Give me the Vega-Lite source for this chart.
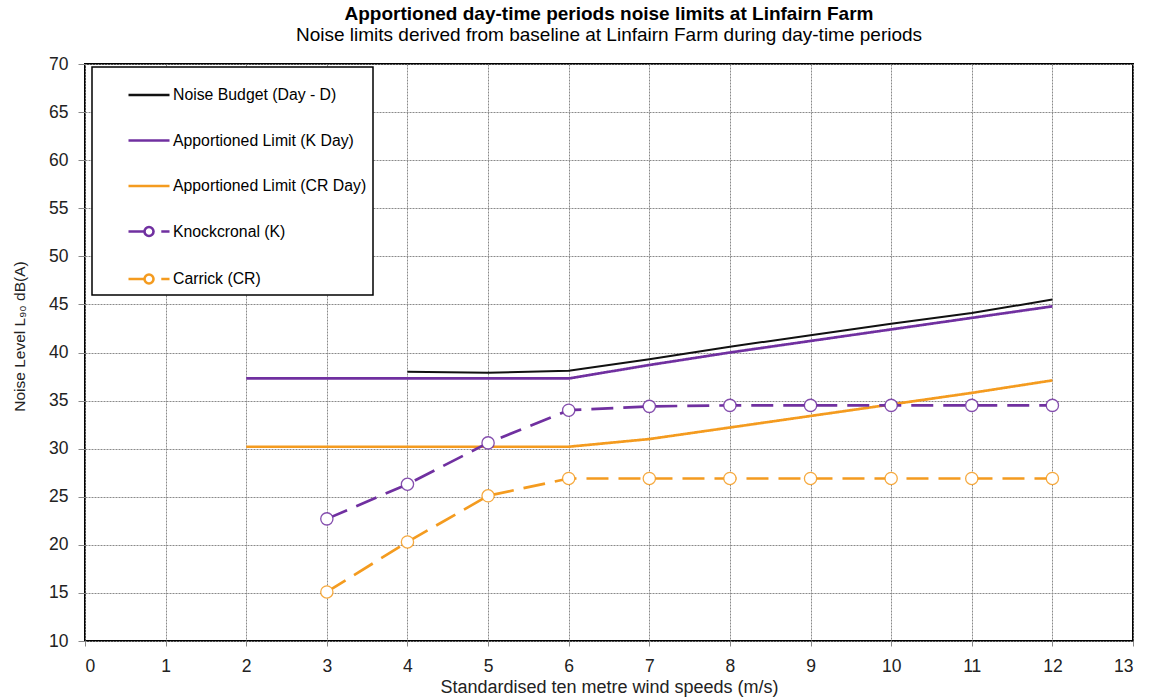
{
  "$schema": "https://vega.github.io/schema/vega-lite/v6.json",
  "width": 1048,
  "height": 577,
  "autosize": {"type": "none"},
  "padding": {"left": 85, "top": 64, "right": 16, "bottom": 58},
  "background": "white",
  "title": {
    "text": "Apportioned day-time periods noise limits at Linfairn Farm",
    "subtitle": "Noise limits derived from baseline at Linfairn Farm during day-time periods",
    "anchor": "middle",
    "frame": "group",
    "font": "Liberation Sans",
    "fontSize": 19,
    "fontWeight": "bold",
    "color": "black",
    "subtitleFont": "Liberation Sans",
    "subtitleFontSize": 19,
    "subtitleColor": "black",
    "subtitlePadding": 2,
    "offset": 10
  },
  "config": {
    "view": {"stroke": "black", "strokeWidth": 2},
    "axis": {
      "labelFont": "Liberation Sans",
      "labelFontSize": 17.5,
      "labelColor": "#222222",
      "titleFont": "Liberation Sans",
      "titleFontWeight": "normal",
      "titleColor": "#222222",
      "gridColor": "#8a8a8a",
      "gridDash": [2, 1],
      "gridWidth": 1,
      "tickColor": "#888888",
      "domain": false
    }
  },
  "data": {
    "values": [
      {"series": "Noise Budget (Day - D)", "wind": 4, "level": 38.0},
      {"series": "Noise Budget (Day - D)", "wind": 5, "level": 37.9},
      {"series": "Noise Budget (Day - D)", "wind": 6, "level": 38.1},
      {"series": "Noise Budget (Day - D)", "wind": 7, "level": 39.3},
      {"series": "Noise Budget (Day - D)", "wind": 8, "level": 40.6},
      {"series": "Noise Budget (Day - D)", "wind": 9, "level": 41.8},
      {"series": "Noise Budget (Day - D)", "wind": 10, "level": 43.0},
      {"series": "Noise Budget (Day - D)", "wind": 11, "level": 44.1},
      {"series": "Noise Budget (Day - D)", "wind": 12, "level": 45.5},
      {"series": "Apportioned Limit (K Day)", "wind": 2, "level": 37.3},
      {"series": "Apportioned Limit (K Day)", "wind": 3, "level": 37.3},
      {"series": "Apportioned Limit (K Day)", "wind": 4, "level": 37.3},
      {"series": "Apportioned Limit (K Day)", "wind": 5, "level": 37.3},
      {"series": "Apportioned Limit (K Day)", "wind": 6, "level": 37.3},
      {"series": "Apportioned Limit (K Day)", "wind": 7, "level": 38.7},
      {"series": "Apportioned Limit (K Day)", "wind": 8, "level": 40.0},
      {"series": "Apportioned Limit (K Day)", "wind": 9, "level": 41.2},
      {"series": "Apportioned Limit (K Day)", "wind": 10, "level": 42.4},
      {"series": "Apportioned Limit (K Day)", "wind": 11, "level": 43.6},
      {"series": "Apportioned Limit (K Day)", "wind": 12, "level": 44.8},
      {"series": "Apportioned Limit (CR Day)", "wind": 2, "level": 30.2},
      {"series": "Apportioned Limit (CR Day)", "wind": 3, "level": 30.2},
      {"series": "Apportioned Limit (CR Day)", "wind": 4, "level": 30.2},
      {"series": "Apportioned Limit (CR Day)", "wind": 5, "level": 30.2},
      {"series": "Apportioned Limit (CR Day)", "wind": 6, "level": 30.2},
      {"series": "Apportioned Limit (CR Day)", "wind": 7, "level": 31.0},
      {"series": "Apportioned Limit (CR Day)", "wind": 8, "level": 32.2},
      {"series": "Apportioned Limit (CR Day)", "wind": 9, "level": 33.4},
      {"series": "Apportioned Limit (CR Day)", "wind": 10, "level": 34.6},
      {"series": "Apportioned Limit (CR Day)", "wind": 11, "level": 35.8},
      {"series": "Apportioned Limit (CR Day)", "wind": 12, "level": 37.1},
      {"series": "Knockcronal (K)", "wind": 3, "level": 22.7},
      {"series": "Knockcronal (K)", "wind": 4, "level": 26.3},
      {"series": "Knockcronal (K)", "wind": 5, "level": 30.6},
      {"series": "Knockcronal (K)", "wind": 6, "level": 34.0},
      {"series": "Knockcronal (K)", "wind": 7, "level": 34.4},
      {"series": "Knockcronal (K)", "wind": 8, "level": 34.5},
      {"series": "Knockcronal (K)", "wind": 9, "level": 34.5},
      {"series": "Knockcronal (K)", "wind": 10, "level": 34.5},
      {"series": "Knockcronal (K)", "wind": 11, "level": 34.5},
      {"series": "Knockcronal (K)", "wind": 12, "level": 34.5},
      {"series": "Carrick (CR)", "wind": 3, "level": 15.1},
      {"series": "Carrick (CR)", "wind": 4, "level": 20.3},
      {"series": "Carrick (CR)", "wind": 5, "level": 25.1},
      {"series": "Carrick (CR)", "wind": 6, "level": 26.9},
      {"series": "Carrick (CR)", "wind": 7, "level": 26.9},
      {"series": "Carrick (CR)", "wind": 8, "level": 26.9},
      {"series": "Carrick (CR)", "wind": 9, "level": 26.9},
      {"series": "Carrick (CR)", "wind": 10, "level": 26.9},
      {"series": "Carrick (CR)", "wind": 11, "level": 26.9},
      {"series": "Carrick (CR)", "wind": 12, "level": 26.9}
    ]
  },
  "encoding": {
    "x": {
      "field": "wind",
      "type": "quantitative",
      "scale": {"domain": [0, 13], "nice": false, "zero": false},
      "axis": {
        "values": [0, 1, 2, 3, 4, 5, 6, 7, 8, 9, 10, 11, 12, 13],
        "format": "d",
        "tickSize": 5,
        "labelPadding": 11,
        "title": "Standardised ten metre wind speeds (m/s)",
        "titleFontSize": 18,
        "titlePadding": 4
      }
    },
    "y": {
      "field": "level",
      "type": "quantitative",
      "scale": {"domain": [10, 70], "nice": false, "zero": false},
      "axis": {
        "values": [10, 15, 20, 25, 30, 35, 40, 45, 50, 55, 60, 65, 70],
        "format": "d",
        "tickSize": 7,
        "labelPadding": 10,
        "title": "Noise Level L₉₀ dB(A)",
        "titleFontSize": 15.5,
        "titlePadding": 21,
        "titleY": 272
      }
    }
  },
  "layer": [
    {
      "transform": [{"filter": {"field": "series", "equal": "Noise Budget (Day - D)"}}],
      "mark": {"type": "line", "strokeWidth": 2},
      "encoding": {
        "stroke": {
          "field": "series",
          "type": "nominal",
          "scale": {
            "domain": ["Noise Budget (Day - D)", "Apportioned Limit (K Day)", "Apportioned Limit (CR Day)", "Knockcronal (K)", "Carrick (CR)"],
            "range": ["#111111", "#7030A0", "#F49B1F", "#7030A0", "#F49B1F"]
          },
          "legend": {
            "orient": "none",
            "legendX": 7,
            "legendY": 3,
            "title": null,
            "padding": 6,
            "symbolOffset": 29,
            "labelOffset": 2,
            "rowPadding": 15.5,
            "symbolSize": 1681,
            "symbolStrokeWidth": 2.6,
            "labelFont": "Liberation Sans",
            "labelFontSize": 15.8,
            "labelColor": "black",
            "labelLimit": 300,
            "strokeColor": "black",
            "fillColor": "white",
            "cornerRadius": 0,
            "encode": {
              "legend": {"update": {"strokeWidth": {"value": 1.5}}},
              "symbols": {
                "update": {
                  "shape": {"signal": "indexof(['Knockcronal (K)', 'Carrick (CR)'], datum.value) >= 0 ? 'M-1,0H-0.24M0.22,0A0.22,0.22,0,1,1,-0.22,0A0.22,0.22,0,1,1,0.22,0M0.6,0H1' : 'M-1,0H1'"},
                  "fill": {"value": "white"},
                  "strokeWidth": {"value": 2.6},
                  "strokeDash": {"value": []}
                }
              }
            }
          }
        },
        "order": {"field": "wind"}
      }
    },
    {
      "transform": [{"filter": {"not": {"field": "series", "equal": "Noise Budget (Day - D)"}}}],
      "mark": {"type": "line", "strokeWidth": 2.7},
      "encoding": {
        "stroke": {"field": "series", "type": "nominal", "legend": null},
        "strokeDash": {
          "field": "series",
          "type": "nominal",
          "scale": {
            "domain": ["Apportioned Limit (K Day)", "Apportioned Limit (CR Day)", "Knockcronal (K)", "Carrick (CR)"],
            "range": [[1, 0], [1, 0], [22, 10], [22, 10]]
          },
          "legend": null
        },
        "order": {"field": "wind"}
      }
    },
    {
      "transform": [{"filter": {"field": "series", "oneOf": ["Knockcronal (K)", "Carrick (CR)"]}}],
      "mark": {"type": "point", "shape": "circle", "filled": false, "fill": "white", "fillOpacity": 1, "size": 150, "strokeWidth": 1.3, "strokeOpacity": 0.85, "opacity": 1},
      "encoding": {
        "stroke": {"field": "series", "type": "nominal", "legend": null}
      }
    }
  ]
}
